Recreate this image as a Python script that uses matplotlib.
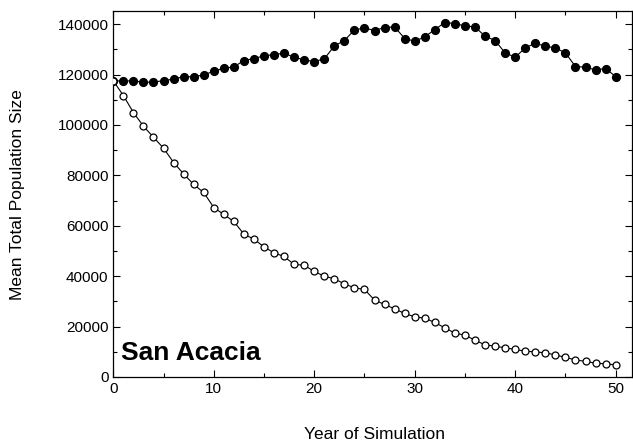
import matplotlib
matplotlib.use("Agg")
import matplotlib.pyplot as plt
from matplotlib.ticker import MultipleLocator

plt.rcParams['font.family'] = ['Liberation Sans', 'DejaVu Sans']

years = list(range(0, 51))
with_stocking = [117500, 117500, 117500, 116980, 116980, 117650, 118170, 119230, 119100, 119890,
                 121340, 122530, 123060, 125580, 126380, 127430, 127960, 128480, 126900, 125830,
                 125190, 126240, 131400, 133520, 137730, 138500, 137500, 138670, 138930, 134320,
                 133250, 134960, 137880, 140660, 140270, 139320, 138930, 135230, 133520, 128600,
                 126900, 130590, 132450, 131260, 130590, 128600, 123200, 122930, 121860, 122400,
                 119240]
no_stocking = [117500, 111700, 104950, 99520, 95150, 90790, 85110, 80590, 76390, 73210,
               67250, 64480, 61700, 56660, 54680, 51620, 49240, 47810, 44640, 44360,
               41860, 40000, 38930, 36950, 35360, 34720, 30530, 28770, 27020, 25200,
               23850, 23330, 21620, 19480, 17380, 16590, 14600, 12740, 12220, 11550,
               10910, 10240, 9960, 9560, 8770, 7740, 6790, 6150, 5480, 5200,
               4800]
site_label = "San Acacia"
x_label = "Year of Simulation"
y_label = "Mean Total Population Size"

fig = plt.figure(figsize=(6.33, 4.44), dpi=100)
ax = fig.add_axes([0.179, 0.151, 0.819, 0.824])

ax.plot(years, with_stocking, color='black', lw=0.8, marker='o', ms=5.6,
        markerfacecolor='black', markeredgecolor='black', zorder=3)
ax.plot(years, no_stocking, color='black', lw=0.8, marker='o', ms=5.0,
        markerfacecolor='white', markeredgecolor='black', markeredgewidth=0.9, zorder=4)

ax.set_xlim(0, 51.6)
ax.set_ylim(0, 145200)
ax.xaxis.set_major_locator(MultipleLocator(10))
ax.xaxis.set_minor_locator(MultipleLocator(5))
ax.yaxis.set_major_locator(MultipleLocator(20000))
ax.yaxis.set_minor_locator(MultipleLocator(10000))
ax.tick_params(which='both', direction='in', top=True, right=True, labelsize=11, width=0.8)
ax.tick_params(which='major', length=5)
ax.tick_params(which='minor', length=3)
for s in ax.spines.values():
    s.set_linewidth(0.9)

ax.text(0.74, 6670, site_label, fontsize=19, fontweight='bold', ha='left', va='baseline')

fig.text(375 / 633, 1 - 434 / 444, x_label, ha='center', va='center', fontsize=12.5)
fig.text(18 / 633, 1 - 195 / 444, y_label, ha='center', va='center', rotation=90, fontsize=12.5)

fig.savefig('out.png', dpi=100)
